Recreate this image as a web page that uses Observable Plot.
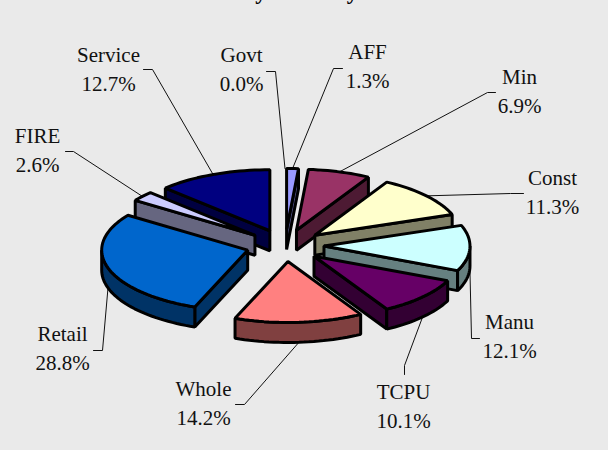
<!DOCTYPE html>
<html>
<head>
<meta charset="utf-8">
<style>
html,body{margin:0;padding:0;background:#eaeaea;overflow:hidden}
svg{display:block}
</style>
<script src="https://cdn.jsdelivr.net/npm/d3@7"></script>
<script src="https://cdn.jsdelivr.net/npm/@observablehq/plot@0.6"></script>
</head>
<body>
<div id="chart"></div>
<script>
// Data: in drawing order, clockwise from twelve o'clock
const categories = ["AFF","Min","Const","Manu","TCPU","Whole","Retail","FIRE","Service","Govt"];
const shares     = [1.3, 6.9, 11.3, 12.1, 10.1, 14.2, 28.8, 2.6, 12.7, 0.0];
const percentLabels = ["1.3%","6.9%","11.3%","12.1%","10.1%","14.2%","28.8%","2.6%","12.7%","0.0%"];
const titleText = "Sales by Industry 1997";

// Styles
const topColors  = ["#9999FF","#993366","#FFFFCC","#CCFFFF","#660066","#FF8080","#0066CC","#CCCCFF","#000080","#A6CAF0"];
const wallColors = ["#4D4D80","#4D1A33","#808066","#668080","#330033","#804040","#003366","#666680","#000040","#536578"];

// Layout of the projected pie
const W = 608, H = 450;
const pie = {cx: 284.5, cy: 245, rx: 146, ry: 61, explodeX: 39, explodeY: 16, depth: 20};
// Label placement: text centre and first-line baseline, then the leader's elbow and end
const labelLayout = {
  AFF:     {x: 367, base: 60,  elbow: [333, 68],  end: [342, 68]},
  Min:     {x: 519, base: 85,  elbow: [487, 92],  end: [495, 92]},
  Const:   {x: 552, base: 186, elbow: [510, 193], end: [523, 193]},
  Manu:    {x: 509, base: 330, elbow: [471, 338], end: [479, 338]},
  TCPU:    {x: 403, base: 400, elbow: [404, 365], end: [404, 374]},
  Whole:   {x: 203, base: 397, elbow: [244, 404], end: [235, 404]},
  Retail:  {x: 62,  base: 342, elbow: [102, 350], end: [93, 350]},
  FIRE:    {x: 37,  base: 144, elbow: [73, 151],  end: [65, 151]},
  Service: {x: 108, base: 63,  elbow: [152, 69],  end: [143, 69]},
  Govt:    {x: 241, base: 63,  elbow: [275, 71],  end: [266, 71]}
};

const total = d3.sum(shares);
const rad = a => a * Math.PI / 180;
const rim = (t, o, dz = 0) => ({
  x: o.x + pie.rx * Math.sin(rad(t)),
  y: o.y - pie.ry * Math.cos(rad(t)) + dz
});

let acc = 0;
const slices = categories.map((name, i) => {
  const t0 = acc / total * 360;
  acc += shares[i];
  const t1 = acc / total * 360;
  const mid = (t0 + t1) / 2;
  const origin = {
    x: pie.cx + pie.explodeX * Math.sin(rad(mid)),
    y: pie.cy - pie.explodeY * Math.cos(rad(mid))
  };
  return {name, i, t0, t1, mid, origin};
});

const arcAngles = (a, b) => {
  const n = Math.max(2, Math.ceil((b - a) / 2));
  return d3.range(n + 1).map(k => a + (b - a) * k / n);
};

const polys = [];
function addPoly(id, pts, fill) {
  pts.forEach(p => polys.push({id, x: p.x, y: p.y, fill}));
}
slices.filter(s => shares[s.i] > 0)
  .sort((a, b) => Math.cos(rad(b.mid)) - Math.cos(rad(a.mid)))
  .forEach(s => {
    const {origin: o, t0, t1, i, name} = s;
    const wall = wallColors[i], top = topColors[i];
    const apexLow = {x: o.x, y: o.y + pie.depth};
    const radial = t => [o, rim(t, o), rim(t, o, pie.depth), apexLow];
    if (Math.sin(rad(t0)) < -1e-6) addPoly(name + "-w0", radial(t0), wall);
    if (Math.sin(rad(t1)) > 1e-6) addPoly(name + "-w1", radial(t1), wall);
    const a = Math.max(t0, 90), b = Math.min(t1, 270);
    if (b > a) {
      const ang = arcAngles(a, b);
      addPoly(name + "-outer",
        [...ang.map(t => rim(t, o)), ...ang.slice().reverse().map(t => rim(t, o, pie.depth))], wall);
    }
    addPoly(name + "-top", [o, ...arcAngles(t0, t1).map(t => rim(t, o))], top);
  });

const leaders = [];
const labels = [];
slices.forEach(s => {
  const l = labelLayout[s.name];
  const front = Math.cos(rad(s.mid)) < 0;
  const start = rim(s.mid, s.origin, front ? pie.depth : 0);
  [[start.x, start.y], l.elbow, l.end].forEach(p => leaders.push({id: s.name, x: p[0], y: p[1]}));
  labels.push({x: l.x, y: l.base + 3.8, text: s.name + "\n" + percentLabels[s.i]});
});

const chart = Plot.plot({
  width: W, height: H,
  margin: 0,
  style: {background: "#eaeaea", fontFamily: "'Liberation Serif', serif"},
  x: {domain: [0, W], range: [0, W], axis: null},
  y: {domain: [0, H], range: [0, H], axis: null},
  marks: [
    Plot.line(leaders, {x: "x", y: "y", z: "id", stroke: "#111", strokeWidth: 1, curve: "linear"}),
    Plot.line(polys, {
      x: "x", y: "y", z: "id", fill: "fill", stroke: "#000",
      strokeWidth: 3, strokeLinejoin: "miter", curve: "linear-closed"
    }),
    Plot.text(labels, {
      x: "x", y: "y", text: "text", fill: "#111",
      fontSize: 21, lineHeight: 1.35, lineAnchor: "middle", textAnchor: "middle"
    }),
    Plot.text([titleText], {
      x: () => 298, y: () => -8.5, text: d => d, fill: "#000",
      fontSize: 23, fontWeight: "bold", textAnchor: "middle", lineAnchor: "middle"
    })
  ]
});
document.getElementById("chart").appendChild(chart);
</script>
</body>
</html>
